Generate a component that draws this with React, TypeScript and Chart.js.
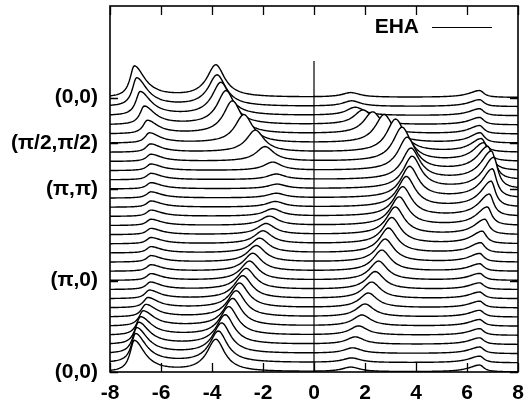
import React, { useEffect, useRef } from 'react';
import { Chart, registerables } from 'chart.js';

Chart.register(...registerables);

// k-path labels on the left axis and their curve offsets
const kLabels = ['(0,0)', '(π/2,π/2)', '(π,π)', '(π,0)', '(0,0)'];
const kTickValues = [30, 25, 20, 10, 0];
const xTickValues = [-8, -6, -4, -2, 0, 2, 4, 6, 8];
const legendLabel = 'EHA';

// Peak positions / heights, one entry per k-point (top curve first)
const posA = [-7.05, -6.96, -6.82, -6.66, -6.54, -6.46, -6.42, -6.4, -6.4, -6.4, -6.4, -6.4, -6.4, -6.4, -6.4, -6.4, -6.4, -6.4, -6.4, -6.4, -6.4, -6.42, -6.46, -6.52, -6.6, -6.7, -6.8, -6.88, -6.95, -7.0, -7.05];
const hA = [3.4, 3.1, 2.6, 2.0, 1.45, 1.1, 0.9, 0.78, 0.72, 0.7, 0.68, 0.68, 0.68, 0.68, 0.68, 0.68, 0.68, 0.68, 0.7, 0.7, 0.72, 0.8, 0.92, 1.1, 1.35, 1.65, 2.0, 2.4, 2.8, 3.15, 3.4];
const posB = [-3.85, -3.8, -3.65, -3.45, -3.2, -2.75, -2.3, -1.92, -1.62, -1.48, -1.45, -1.48, -1.52, -1.62, -1.75, -1.88, -2.0, -2.13, -2.26, -2.4, -2.53, -2.66, -2.79, -2.92, -3.05, -3.19, -3.34, -3.48, -3.62, -3.75, -3.85];
const hB = [3.5, 3.4, 3.6, 3.7, 3.6, 3.1, 2.4, 1.6, 0.9, 0.6, 0.5, 0.5, 0.6, 0.8, 1.0, 1.2, 1.4, 1.6, 1.8, 1.95, 2.1, 2.3, 2.5, 2.7, 2.85, 3.0, 3.1, 3.2, 3.3, 3.4, 3.5];
const posC = [1.45, 1.48, 1.62, 1.92, 2.3, 2.75, 3.2, 3.45, 3.65, 3.8, 3.85, 3.75, 3.62, 3.48, 3.34, 3.19, 3.05, 2.92, 2.79, 2.66, 2.53, 2.4, 2.26, 2.13, 2.0, 1.88, 1.75, 1.62, 1.52, 1.48, 1.45];
const hC = [0.5, 0.6, 0.9, 1.6, 2.4, 3.1, 3.6, 3.7, 3.6, 3.4, 3.5, 3.4, 3.3, 3.2, 3.1, 3.0, 2.85, 2.7, 2.5, 2.3, 2.1, 1.95, 1.8, 1.6, 1.4, 1.2, 1.0, 0.8, 0.6, 0.5, 0.5];
const posD = [6.5, 6.5, 6.5, 6.5, 6.5, 6.52, 6.56, 6.66, 6.82, 6.96, 7.05, 7.0, 6.95, 6.88, 6.8, 6.7, 6.6, 6.54, 6.5, 6.5, 6.5, 6.5, 6.5, 6.5, 6.5, 6.5, 6.5, 6.5, 6.5, 6.5, 6.5];
const hD = [0.75, 0.75, 0.76, 0.8, 0.9, 1.1, 1.45, 2.0, 2.6, 3.1, 3.4, 3.15, 2.8, 2.4, 2.0, 1.65, 1.35, 1.1, 0.92, 0.8, 0.75, 0.72, 0.72, 0.72, 0.72, 0.72, 0.72, 0.72, 0.72, 0.72, 0.75];
// left / right half-widths of each band (A, B, C, D)
const widthLeft = [0.2, 0.42, 0.42, 0.5];
const widthRight = [0.5, 0.42, 0.42, 0.2];
const zeroLineTop = 34;

const FONT = 'Liberation Sans, Arial, Helvetica, sans-serif';

function spectrum(k: number): { x: number; y: number }[] {
  const pos = [posA[k], posB[k], posC[k], posD[k]];
  const h = [hA[k], hB[k], hC[k], hD[k]];
  const offset = posA.length - 1 - k;
  const pts: { x: number; y: number }[] = [];
  for (let n = 0; n <= 400; n++) {
    const e = -8 + n * 0.04;
    let a = 0;
    for (let b = 0; b < 4; b++) {
      const g = e < pos[b] ? widthLeft[b] : widthRight[b];
      const d = e - pos[b];
      a += (h[b] * g * g) / (d * d + g * g);
    }
    pts.push({ x: e, y: offset + a });
  }
  return pts;
}

const framePlugin = {
  id: 'frameTicks',
  afterDraw(chart: any) {
    const { ctx, chartArea } = chart;
    const xs = chart.scales.x;
    const ys = chart.scales.y;
    ctx.save();
    ctx.strokeStyle = '#000';
    ctx.lineWidth = 1.6;
    ctx.strokeRect(chartArea.left, chartArea.top, chartArea.right - chartArea.left, chartArea.bottom - chartArea.top);
    ctx.lineWidth = 1.3;
    ctx.beginPath();
    for (const v of xTickValues) {
      const px = Math.round(xs.getPixelForValue(v)) + 0.5;
      ctx.moveTo(px, chartArea.bottom);
      ctx.lineTo(px, chartArea.bottom - 9);
      ctx.moveTo(px, chartArea.top);
      ctx.lineTo(px, chartArea.top + 9);
    }
    for (const v of kTickValues) {
      const py = Math.round(ys.getPixelForValue(v)) + 0.5;
      ctx.moveTo(chartArea.left, py);
      ctx.lineTo(chartArea.left + 8, py);
      ctx.moveTo(chartArea.right, py);
      ctx.lineTo(chartArea.right - 8, py);
    }
    ctx.stroke();
    // legend
    const ly = chartArea.top + 21;
    ctx.fillStyle = '#000';
    ctx.font = `bold 21px ${FONT}`;
    ctx.textAlign = 'right';
    ctx.textBaseline = 'middle';
    ctx.fillText(legendLabel, chartArea.right - 99, ly);
    ctx.lineWidth = 1.2;
    ctx.beginPath();
    ctx.moveTo(chartArea.right - 86, ly + 0.5);
    ctx.lineTo(chartArea.right - 26, ly + 0.5);
    ctx.stroke();
    ctx.restore();
  },
};

export default function App() {
  const ref = useRef<HTMLCanvasElement | null>(null);
  useEffect(() => {
    if (!ref.current) return;
    const datasets: any[] = [];
    datasets.push({
      data: [
        { x: 0, y: zeroLineTop },
        { x: 0, y: 0 },
      ],
      borderColor: '#000',
      borderWidth: 1.2,
      fill: false,
      pointRadius: 0,
    });
    for (let k = posA.length - 1; k >= 0; k--) {
      datasets.push({
        data: spectrum(k),
        borderColor: '#000',
        borderWidth: 1.4,
        backgroundColor: '#fff',
        fill: 'start',
        pointRadius: 0,
        tension: 0,
      });
    }
    const chart = new Chart(ref.current, {
      type: 'line',
      data: { datasets },
      plugins: [framePlugin],
      options: {
        animation: false,
        responsive: false,
        maintainAspectRatio: false,
        parsing: false,
        layout: { padding: { left: 0, right: 13, top: 6, bottom: 0 } },
        plugins: { legend: { display: false }, tooltip: { enabled: false } },
        scales: {
          x: {
            type: 'linear',
            min: -8,
            max: 8,
            afterBuildTicks: (s: any) => {
              s.ticks = xTickValues.map((v) => ({ value: v }));
            },
            afterFit: (s: any) => {
              s.height = 39;
              s.paddingLeft = 0;
              s.paddingRight = 0;
            },
            ticks: {
              font: { family: FONT, size: 21, weight: 'bold' },
              color: '#000',
              padding: 9,
              maxRotation: 0,
              autoSkip: false,
              callback: (v: any) => String(v),
            },
            grid: { display: false, drawTicks: false },
            border: { display: false },
          },
          y: {
            type: 'linear',
            min: 0,
            max: 40,
            afterBuildTicks: (s: any) => {
              s.ticks = kTickValues.map((v) => ({ value: v }));
            },
            afterFit: (s: any) => {
              s.width = 110;
              s.paddingTop = 0;
              s.paddingBottom = 0;
            },
            ticks: {
              font: { family: FONT, size: 21, weight: 'bold' },
              color: '#000',
              padding: 12,
              autoSkip: false,
              callback: (v: any) => {
                const i = kTickValues.indexOf(Number(v));
                return i >= 0 ? kLabels[i] : '';
              },
            },
            grid: { display: false, drawTicks: false },
            border: { display: false },
          },
        },
      },
    });
    return () => chart.destroy();
  }, []);
  return (
    <div style={{ position: 'absolute', left: 0, top: 0, width: 531, height: 411, background: '#fff' }}>
      <canvas ref={ref} width={531} height={411} style={{ display: 'block' }} />
    </div>
  );
}
